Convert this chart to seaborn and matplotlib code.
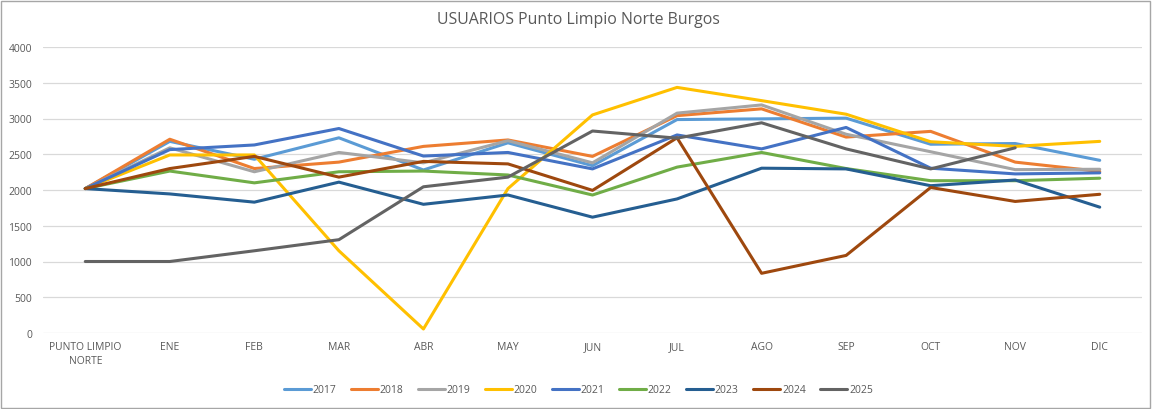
import numpy as np
import pandas as pd
import matplotlib
matplotlib.use("Agg")
import matplotlib.pyplot as plt
import seaborn as sns

categories = ["PUNTO LIMPIO\nNORTE", "ENE", "FEB", "MAR", "ABR", "MAY", "JUN",
              "JUL", "AGO", "SEP", "OCT", "NOV", "DIC"]

s2017 = [2020, 2680, 2430, 2730, 2280, 2660, 2340, 2985, 2995, 3005, 2640, 2650, 2415]
s2018 = [2020, 2710, 2300, 2390, 2610, 2700, 2470, 3040, 3135, 2740, 2820, 2390, 2260]
s2019 = [2020, 2590, 2255, 2525, 2380, 2690, 2380, 3075, 3190, 2780, 2535, 2285, 2290]
s2020 = [2020, 2490, 2490, 1150, 56, 2020, 3050, 3435, 3250, 3060, 2675, 2610, 2680]
s2021 = [2020, 2565, 2630, 2860, 2475, 2525, 2295, 2770, 2575, 2875, 2305, 2225, 2240]
s2022 = [2020, 2265, 2100, 2255, 2265, 2210, 1930, 2320, 2525, 2300, 2130, 2130, 2165]
s2023 = [2020, 1945, 1830, 2110, 1800, 1930, 1620, 1875, 2305, 2295, 2060, 2140, 1760]
s2024 = [2020, 2300, 2470, 2180, 2400, 2365, 1995, 2730, 835, 1085, 2035, 1840, 1940]
s2025 = [1000, 1000, 1150, 1305, 2045, 2180, 2825, 2725, 2940, 2575, 2295, 2590, np.nan]

years = ["2017", "2018", "2019", "2020", "2021", "2022", "2023", "2024", "2025"]
series = [s2017, s2018, s2019, s2020, s2021, s2022, s2023, s2024, s2025]
colors = ["#5B9BD5", "#ED7D31", "#A5A5A5", "#FFC000", "#4472C4",
          "#70AD47", "#255E91", "#9E480E", "#636363"]

rows = []
for y, vals in zip(years, series):
    for i, v in enumerate(vals):
        rows.append({"x": i, "value": v, "year": y})
df = pd.DataFrame(rows)

sns.set_theme(style="white")
plt.rcParams["font.family"] = ["Open Sans", "DejaVu Sans"]

fig = plt.figure(figsize=(11.57, 4.10), dpi=100)
ax = fig.add_axes([43/1157, 1-334/410, (1142-43)/1157, (334-48)/410])

sns.lineplot(data=df, x="x", y="value", hue="year", palette=colors,
             hue_order=years, linewidth=2.2, ax=ax, legend=False, sort=False)

ax.set_xlim(-0.5, 12.5)
ax.set_ylim(0, 4000)
ax.set_yticks(np.arange(0, 4001, 500))
ax.set_xticks(range(len(categories)))
ax.set_xticklabels(categories, fontsize=7.5, color="#595959", linespacing=1.3)
ax.tick_params(axis="y", labelsize=7.5, labelcolor="#595959", length=0, pad=8)
ax.tick_params(axis="x", length=0, pad=6)
ax.yaxis.grid(True, color="#D9D9D9", linewidth=0.9)
ax.set_axisbelow(True)
for sp in ax.spines.values():
    sp.set_visible(False)
ax.set_xlabel("")
ax.set_ylabel("")

fig.text(0.5, 1-20/410, "USUARIOS Punto Limpio Norte Burgos", ha="center", va="center",
         fontsize=11.4, color="#595959")

handles = [plt.Line2D([], [], color=c, linewidth=2.2) for c in colors]
fig.legend(handles, years, loc="center", bbox_to_anchor=(0.5, 1-391/410), ncol=9,
           frameon=False, fontsize=7.5, handlelength=2.6, handletextpad=0.15,
           columnspacing=1.4, labelcolor="#595959")

border = plt.Rectangle((1/1157, 1/410), 1-8/1157, 1-3/410, transform=fig.transFigure,
                       fill=False, edgecolor="#A6A6A6", linewidth=1.0)
fig.patches.append(border)

fig.savefig("out.png", dpi=100, facecolor="white")
